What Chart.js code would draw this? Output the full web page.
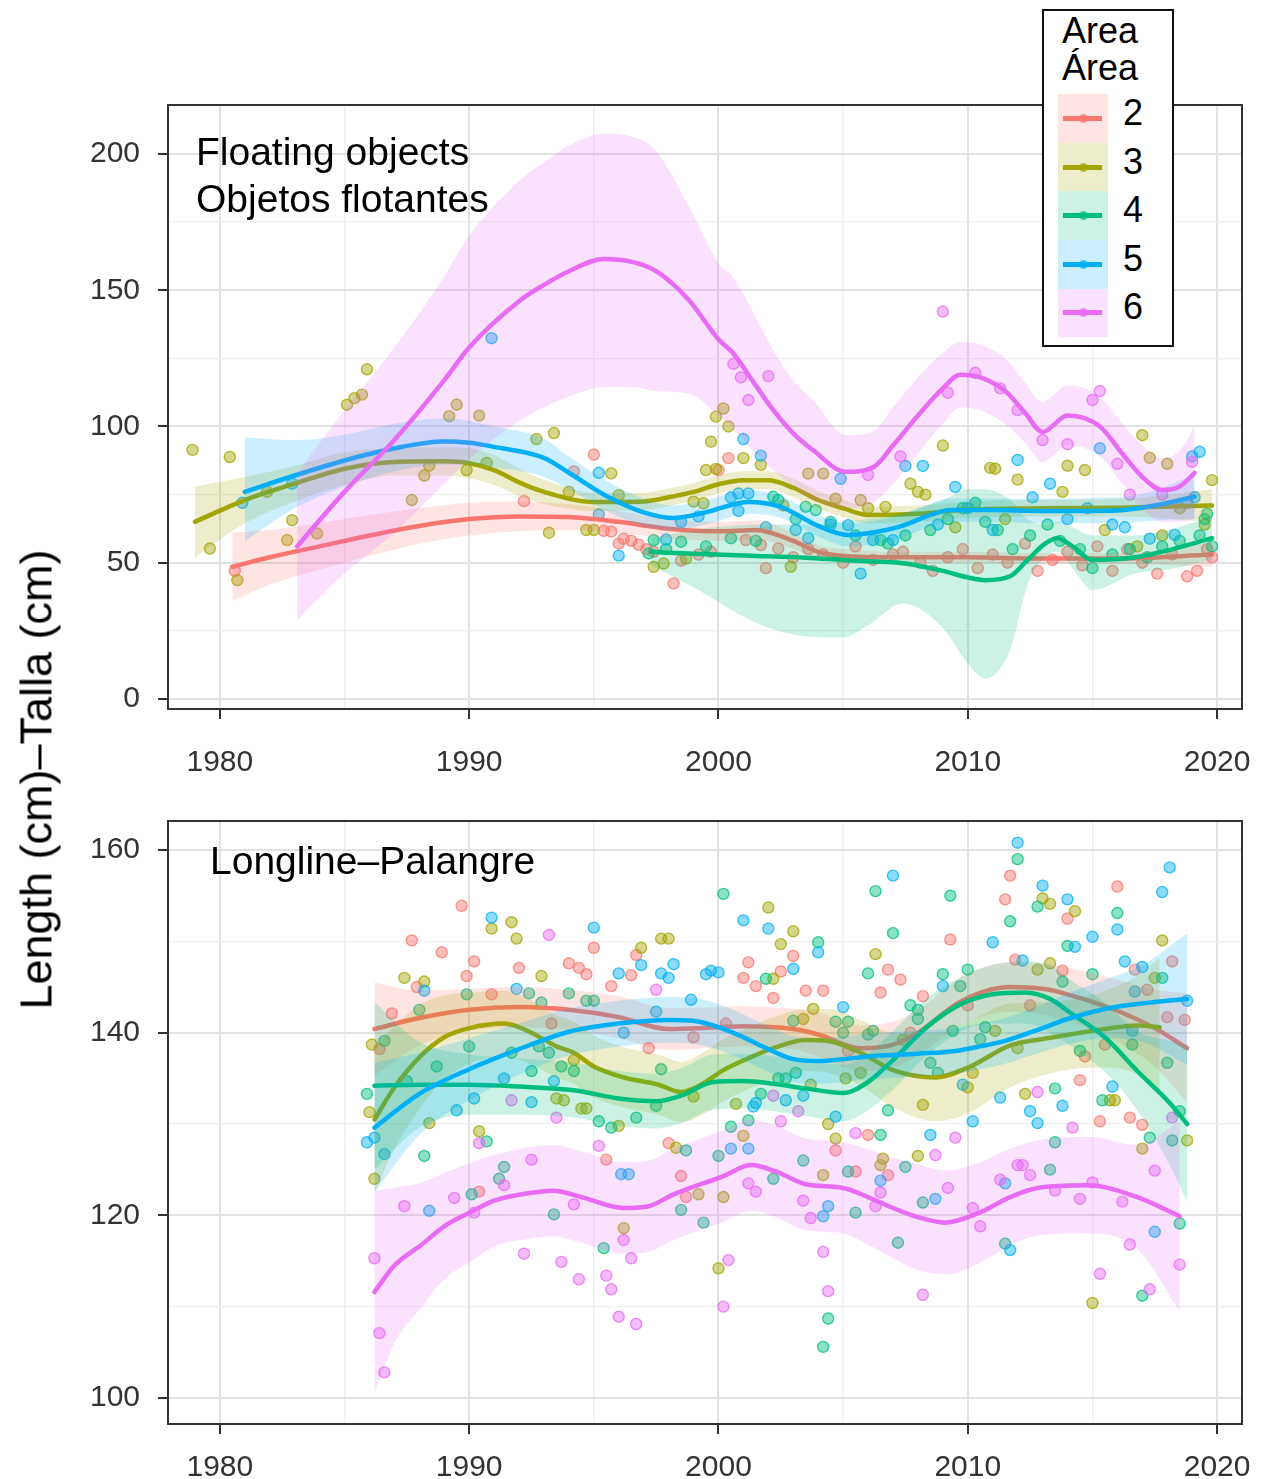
<!DOCTYPE html>
<html><head><meta charset="utf-8">
<script src="https://cdn.jsdelivr.net/npm/chart.js@4.4.1/dist/chart.umd.min.js"></script>
<style>
html,body{margin:0;padding:0;background:#fff;}
#wrap{position:relative;width:1268px;height:1479px;overflow:hidden;font-family:"Liberation Sans",Arial,Helvetica,sans-serif;color:#000;}
canvas{position:absolute;left:0;}
.t{position:absolute;white-space:nowrap;}
.plabel{font-size:39px;line-height:39px;}
.lg{font-size:36px;line-height:36px;}
</style></head><body>
<div id="wrap">
<canvas id="c1" width="1268" height="790" style="top:0px"></canvas>
<canvas id="c2" width="1268" height="719" style="top:760px"></canvas>
<div class="t plabel" style="left:196px;top:132px">Floating objects</div>
<div class="t plabel" style="left:196px;top:179px">Objetos flotantes</div>
<div class="t plabel" style="left:210px;top:841px">Longline–Palangre</div>
<div class="t" id="ytitle" style="left:-314px;top:757px;width:700px;height:45px;line-height:45px;font-size:45px;text-align:center;transform:rotate(-90deg);transform-origin:50% 50%;">Length (cm)–Talla (cm)</div>
<div id="legend"></div>
</div>
<script>
// ---------------- DATA ----------------
const areaNames = ['2','3','4','5','6'];
const xTicks = [1980,1985,1990,1995,2000,2005,2010,2015,2020];
const foYTicks = [0,25,50,75,100,125,150,175,200];
const llYTicks = [100,110,120,130,140,150,160];

// Floating objects: smooth fits and confidence bands
const fo_x_2 = [1980.5,1982,1984,1986,1988,1990,1992,1994,1996,1998,2000,2001.5,2003,2004,2005,2007,2010,2013,2016,2019.8];
const fo_fit_2 = [48.5,52,56,60,63.5,66,67,66.8,65,62.5,61.5,62,58,54,52.5,52,52,51.5,51.5,53];
const fo_lo_2 = [36,42,47.5,52.5,57,60,61.5,62,61,59,58,58.5,55,51.5,50,50,50,49.5,49.5,48.5];
const fo_hi_2 = [61,62,64.5,67.5,70,72,72.5,71.5,69,66,65,65.5,61,56.5,55,54,54,53.5,53.5,57.5];

const fo_x_3 = [1979,1981,1983,1985,1987,1989,1990,1991,1992,1993,1995,1997,1998,1999,2000,2001,2002,2003,2004,2005,2006,2008,2010,2013,2016,2019.8];
const fo_fit_3 = [65,73,79,84.5,87,87.2,86.5,84,79.5,76,72.3,72.5,74,76,78.8,80.3,80.3,77.5,73,70,67.5,68,69.5,70,70.2,71];
const fo_lo_3 = [52,64.5,72.5,78.5,82,82,81,78.5,74.5,71.5,69,69.3,70.8,72.8,75.5,77,77,74.2,69.8,66.8,64.4,65,66.5,67,67,65];
const fo_hi_3 = [78,81.5,85.5,90.5,92,92.4,92,89.5,84.5,80.5,75.6,75.7,77.2,79.2,82.1,83.6,83.6,80.8,76.2,73.2,70.6,71,72.5,73,73.4,77];

const fo_x_4 = [1997.3,1999,2001.5,2003.5,2005,2006,2007.4,2009,2010,2010.7,2011.7,2012.4,2013.1,2013.6,2014.2,2015,2016.7,2018,2019.8];
const fo_fit_4 = [54,53.3,52.5,51.8,51,50.5,49.8,47,44.6,43.6,45,51,57,59,56,51,52,54.5,59];
const fo_lo_4 = [49,41,28,23,22.5,27,35,26,13,7.5,18,42,52,54,48,40,46,47.5,51];
const fo_hi_4 = [59,62,64,64,65,66,68,73,77,77,73,66,64,65,63,60,60,62,67];

const fo_x_5 = [1981,1983,1985,1987,1989,1990,1991,1993,1994,1995.5,1997,1998.2,1999.5,2001.2,2002.5,2004,2005.2,2006,2007.3,2008.3,2009.3,2011,2013,2016,2017.5,2019.1];
const fo_fit_5 = [76,82,87.5,92,94.5,94,92.5,88.5,83,74.5,68.5,66.4,68.5,72.3,70.5,63.5,60.2,60.8,63.3,66.8,69.3,69.3,69,69.2,71,74.2];
const fo_lo_5 = [58,70,78,83.5,86,86,85,81.5,77,69,63.5,62,64,68,66.5,59.5,56,56.5,59,62.5,65,65,64.5,64.5,65.5,66];
const fo_hi_5 = [96,95,97,101,103,102,100,95.5,89,80,73.5,71,73,76.6,74.5,67.5,64.4,65,67.6,71,73.6,73.6,73.5,74,76.5,82.5];

const fo_x_6 = [1983.1,1985,1987,1989,1990,1992,1993,1994,1995.4,1996.5,1997.5,1998.8,2000,2000.6,2001.5,2002.2,2003,2003.8,2005.1,2006.2,2007,2008,2009,2009.7,2010.5,2011.5,2012.3,2013,2014,2015.3,2016.2,2017,2017.8,2018.5,2019.1];
const fo_fit_6 = [56,76,95,117,129,146,152,157,161.5,160.5,157,146.5,132,126.8,115,106,97.5,91.3,83.4,85,93,104,114,119,118,113,105,98,104,100,90,81.5,76.7,78,83];
const fo_lo_6 = [29,46,61,79,88,102,107,111,114.5,114.5,113,112,104,99,90,84,78,73,70,72,79,90,101,107,106,101,94,87,93,89,79,70,65,65,66];
const fo_hi_6 = [83,106,129,155,170,190,197,203,207.5,206.5,201,181,160,154.6,140,128,117,109.6,96.8,98,107,118,127,131,130,125,116,109,115,111,101,93,88.4,91,100];

// Floating objects: observations [year, length]
const fo_pts_2 = [[1980.6,47],[1992.2,72.6],[1994.2,83.5],[1995,89.7],[1995.4,61.7],[1995.7,61.4],[1996,57],[1996.2,58.8],[1996.5,58],[1996.8,56.6],[1997.1,55],[1997.4,54],[1998.2,42.4],[1998.5,50.8],[1999.2,53],[1999.7,54],[2000,84],[2000.4,88.4],[2001.1,58.3],[2001.7,56.5],[2002.4,55.2],[2001.9,48],[2003,52],[2003.6,55],[2004.2,53],[2005,50],[2005.5,56],[2006.2,51],[2007,53],[2007.4,54],[2008.1,50],[2008.6,47],[2009.2,52],[2009.8,55],[2010.4,48],[2011,53],[2011.6,50],[2012.3,57],[2012.8,47],[2013.4,51],[2014,54],[2014.6,49],[2015.2,56],[2015.8,47],[2016.4,55],[2017,50],[2017.6,46],[2018.2,53],[2018.8,45],[2019.2,47],[2019.6,55],[2019.8,52]];
const fo_pts_3 = [[1978.9,91.4],[1980.4,88.8],[1979.6,55.2],[1980.7,43.6],[1981.9,76],[1982.9,65.6],[1982.7,58.3],[1983.9,60.7],[1985.1,108],[1985.4,110.4],[1985.7,111.7],[1985.9,121],[1987.7,73],[1988.2,82],[1988.4,85.6],[1989.2,103.8],[1989.5,108],[1990.4,104],[1990.7,86.6],[1989.9,84],[1992.7,95.4],[1993.4,97.6],[1993.2,61],[1994,76],[1995.7,82.8],[1996,74.8],[1994.7,62],[1995,62],[1997.4,48.5],[1997.8,49.7],[1998.7,51.5],[1999,72.4],[1999.4,71.8],[1999.7,94.4],[1999.9,103.6],[2000.2,106.6],[2000.4,100],[1999.5,84],[1999.9,84.4],[2001,88.4],[2001.7,85.9],[2002.6,71],[2002.9,48.5],[2003.6,82.7],[2004.2,82.7],[2004.7,73.5],[2005.7,73],[2006,70],[2006.7,70.5],[2007.7,79],[2008,76],[2008.3,75],[2009,93],[2009.5,63],[2010.9,84.8],[2011.1,84.5],[2011.5,66],[2012,80.5],[2013.8,76],[2014,85.6],[2014.7,84],[2015.5,62],[2016.8,56],[2017,96.8],[2017.3,88.5],[2017.8,60],[2018,86.3],[2018.5,70],[2019.5,64],[2019.8,80.3]];
const fo_pts_4 = [[1997.2,53.4],[1997.4,58.3],[1997.9,55],[1998.5,57.7],[1999.5,56],[2000.5,59],[2001.5,58],[2002.2,74.2],[2002.4,73],[2003.1,66],[2003.5,70.5],[2003.9,69.3],[2004.5,65],[2005.5,60],[2006.5,58.3],[2006.8,57],[2007.5,60],[2008.5,62],[2009.2,66],[2009.8,70],[2010.3,72],[2010.7,65],[2011.2,62],[2011.8,55],[2012.5,60],[2013.2,64],[2013.7,58],[2014.5,55],[2015,48],[2015.8,53],[2016.5,55],[2017.2,52],[2017.8,56],[2018.5,58],[2019.3,60],[2019.5,66],[2019.6,68],[2019.8,56]];
const fo_pts_5 = [[1980.9,72],[1982.9,79],[1990.9,132.4],[1995.2,83],[1995.2,67.7],[1996,52.6],[1997.9,58.5],[1998.5,65],[1999.2,67],[2000.5,74],[2000.8,75.4],[2001.2,75.4],[2000.8,69],[2001,95.4],[2001.7,89.3],[2001.9,63],[2003.1,62],[2003.6,59],[2004.5,64],[2004.9,80.8],[2005.2,63.8],[2005.7,46],[2006.2,58.3],[2007,58.3],[2007.5,85.5],[2008.2,85.5],[2008.8,64],[2009.5,77.8],[2010,70],[2011,62],[2012,87.7],[2012.6,74],[2013.3,79],[2014,66],[2014.8,70],[2015.3,92],[2015.8,64],[2016.3,63],[2017.3,58.8],[2018.3,60.2],[2018.8,72],[2019,89],[2019.3,90.7],[2019.1,74]];
const fo_pts_6 = [[2000.6,123],[2000.9,118],[2002,118.5],[2001.2,109.7],[2006,82.2],[2007.3,89],[2009,142.2],[2009.2,112.4],[2010.3,119.7],[2011.3,114],[2012,106],[2013,95],[2014,93.5],[2015,109.7],[2015.3,113],[2016,86.3],[2016.5,75],[2017.8,75],[2019,87]];

// Longline: smooth fits and confidence bands
const ll_x_2 = [1986.2,1988,1990,1992,1994,1996,1998,2000,2001,2003,2004,2005.7,2007,2008,2009.7,2011.7,2013,2014,2016,2017.5,2018.8];
const ll_fit_2 = [140.4,141.6,142.5,142.8,142.5,141.7,140.4,140.6,140.7,140.4,139.8,138.3,138.7,140,143.4,145,144.8,144.2,142.4,140.5,138.3];
const ll_lo_2 = [135.3,138.6,140.2,140.6,140.3,139.4,138.1,138.4,138.5,138.2,137.4,135.8,136.2,137.5,140.8,142.3,142,141.3,139,136.3,132.3];
const ll_hi_2 = [145.5,144.6,144.8,145,144.7,144,142.7,142.8,142.9,142.6,142.2,140.8,141.2,142.5,146,147.7,147.6,147.1,145.8,144.7,144.3];

const ll_x_3 = [1986.2,1987,1988,1989,1990,1991.4,1992.5,1993.5,1994.2,1995,1996.2,1997.6,1998.5,1999.3,2000.2,2001.2,2002.2,2003.5,2004.4,2005.7,2007,2008.7,2010.1,2011.7,2013,2014.1,2015.5,2016.8,2017.7];
const ll_fit_3 = [130.5,134,137.3,139.5,140.5,141,140,138.5,137.8,136.3,135.1,134.3,133.5,134.3,135.9,137.2,138.3,139.2,139.1,137.8,135.9,135.1,136.3,138.6,139.3,139.8,140.4,140.8,140.6];
const ll_lo_3 = [122.5,127.3,131.6,134.9,136.6,137.4,136.5,135.1,134.4,132.9,131.8,131,130.2,130.9,132.5,133.8,134.9,135.8,135.6,134.2,131.8,130.3,131.3,134,135.3,136,136.2,135.4,133];
const ll_hi_3 = [138.5,140.7,143,144.1,144.4,144.6,143.5,141.9,141.2,139.7,138.4,137.6,136.8,137.7,139.3,140.6,141.7,142.6,142.6,141.4,140,139.9,141.3,143.2,143.3,143.6,144.6,146.2,148.2];

const ll_x_4 = [1986.2,1988,1990,1992,1994.2,1996,1997.5,1998.5,1999.8,2001,2002.2,2003.5,2005,2006,2007,2008.4,2009.7,2011,2012.3,2013.3,2014.1,2015.5,2016.8,2018.1,2018.8];
const ll_fit_4 = [134.2,134.3,134.3,134.1,133.7,132.8,132.5,133.1,134.6,134.7,134.4,133.9,133.4,134.6,137,140.7,143.1,144.2,144.4,143.7,142.2,139.5,135.8,132.3,130];
const ll_lo_4 = [125,129.6,131,131,130.7,129.8,129.5,130.1,131.6,131.7,131.4,130.9,130.3,131.5,133.8,137.6,140.1,141,141,140,138.6,135.7,131.5,125.5,121.5];
const ll_hi_4 = [143.4,139,137.6,137.2,136.7,135.8,135.5,136.1,137.6,137.7,137.4,136.9,136.5,137.7,140.2,143.8,146.1,147.4,147.8,147.4,145.8,143.3,140.1,139.1,138.5];

const ll_x_5 = [1986.2,1988,1990,1992,1994,1996,1998,1999,2000,2001,2002,2003,2004,2005,2006,2008,2009.5,2010.5,2011.5,2013,2014,2015.5,2017,2018.8];
const ll_fit_5 = [129.6,133.3,136,138.2,140.1,141,141.4,141.3,140.6,139.5,138.2,137.1,136.9,137.1,137.4,137.7,138,138.5,139.1,140.5,141.5,142.6,143.2,143.7];
const ll_lo_5 = [122.5,128.8,132.6,135.4,137.5,138.5,138.9,138.8,138.1,137,135.7,134.6,134.4,134.6,134.9,135.2,135.5,136,136.6,137.9,138.7,139.4,139,136.5];
const ll_hi_5 = [136.7,137.8,139.4,141,142.7,143.5,143.9,143.8,143.1,142,140.7,139.6,139.4,139.6,139.9,140.2,140.5,141,141.6,143.1,144.3,145.8,147.4,150.9];

const ll_x_6 = [1986.2,1987,1988.1,1989,1990.1,1991,1992.1,1993.4,1994.5,1996.2,1997.2,1998.2,2000.2,2001.3,2002.3,2003.5,2005,2006,2007,2008,2009.1,2010.4,2011.7,2012.8,2014.8,2016.8,2018.5];
const ll_fit_6 = [111.6,114.5,116.8,118.8,120.4,121.6,122.3,122.7,122,120.8,121,122.3,124.3,125.5,124.8,123.4,123,122,120.8,119.8,119.2,120.2,122,123,123.3,122,119.9];
const ll_lo_6 = [100.5,106,110,113,115,116.6,117.3,117.7,117,115.8,116,117.3,119.3,120.5,119.8,118.4,118,116.8,115.3,114,113.5,114.7,116.7,117.8,118,116.3,109.5];
const ll_hi_6 = [122.7,123,123.6,124.6,125.8,126.6,127.3,127.7,127,125.8,126,127.3,129.3,130.5,129.8,128.4,128,127.2,126.3,125.6,124.9,125.7,127.3,128.2,128.6,127.7,130.3];

// Longline: observations [year, length]
const ll_pts_2 = [[1989.7,153.9],[1987.7,150.1],[1988.9,148.8],[1990.2,147.8],[1989.9,146.2],[1995,149.3],[1992,147.1],[1994,147.6],[1994.4,147.1],[1994.7,146.4],[1995.7,145.1],[1996.5,146.3],[1996.7,148.5],[1987.9,145],[1986.9,142.1],[1990.9,144.2],[1986.4,138.2],[1998,127.9],[1995.5,126.1],[1998.5,124.3],[1998.7,122],[1990.4,122.6],[2001.2,147.7],[2001,146],[2001.5,145.1],[2002.5,146.7],[2002.2,143.8],[2003,148.4],[2003.5,144.6],[2004.2,144.6],[2006.8,146.9],[2007.3,145.8],[2006.5,144.4],[2009.3,150.2],[2011.7,157.2],[2011.5,154.6],[2014,152.5],[2016,156],[2018.2,147.8],[2016.7,146.9],[2018,141.7],[2018.7,141.4],[2014.5,134.8],[2015.3,130.3],[2016.5,130.7],[2017,129.9],[2008.2,144],[2011.9,148],[2013.8,146.8],[2017.2,144.7],[2015.5,138.7],[2014.7,137.4],[2006,128.8],[2004.7,127.1],[2006.8,124.4],[2005.5,124.8],[1997.2,138.3],[1993.3,141],[1999,139.5],[2000.3,141],[2005.2,138],[2007.7,140],[2010,143],[2012.5,143]];
const ll_pts_3 = [[1990.9,151.4],[1991.7,152.1],[1991.9,150.3],[1992.9,146.2],[1996.9,149.3],[1997.7,150.3],[1998,150.3],[1987.4,146],[1988.2,145.6],[1986.1,138.7],[1986,131.3],[1986.2,124],[1988.4,130.1],[1990.4,129.2],[1993.5,132.8],[1993.8,132.6],[1994.5,131.7],[1994.7,131.7],[1996,129.8],[1998.3,127.4],[1996.2,118.6],[2002,153.7],[2003,151.1],[2002.5,149.7],[2002.2,145.9],[2006.3,148.6],[2017.8,150.1],[2013,154.7],[2013.3,154.1],[2014.3,153.3],[2017.5,146],[2018.8,128.2],[2015.7,132.6],[2017,127.3],[2012.3,133.3],[2010,134],[2008.2,132.1],[2008,126.5],[2006.5,125.5],[2006.6,126.2],[2004.7,128.4],[2004.4,130],[2004.2,124.4],[2000.2,122],[1999.2,122.3],[2000,114.2],[2001,128.7],[2000.7,132.2],[2003.7,134.3],[2005.7,135.6],[2005.1,135],[2003.8,142.6],[2003.4,141.5],[2007.4,139.2],[2010.2,135.6],[2012,138.3],[2011.1,140.2],[2013.3,147.6],[2012.8,146.9],[2015,110.4],[2015.9,132.6],[1999,133],[1994.2,137]];
const ll_pts_4 = [[1988,142.5],[1989.9,144.2],[1992.4,144.3],[1992.9,143.3],[1994,144.3],[1994.7,143.5],[1995,143.5],[1986.6,139.1],[1985.9,133.3],[1988.2,126.5],[1987.5,134.7],[1988.7,136.3],[1990,138.5],[1990.7,128.1],[1991.7,137.8],[1991.4,125.3],[1991.2,124],[1992.5,135.8],[1992.8,138.5],[1993.2,137.8],[1993.7,136.3],[1994.2,135.8],[1995.2,130.3],[1995.7,129.6],[1996.7,130.7],[1997.7,136],[1997.5,132],[1998.7,127.1],[1995.4,116.4],[1993.4,120.1],[1998.5,120.6],[1990.1,122.3],[2000.2,155.2],[2001.9,145.9],[2004,149.9],[2006.3,155.5],[2007,150.9],[2006,146.5],[2009.3,155],[2012,159],[2011.7,152.2],[2012.8,153.8],[2014,149.5],[2016,153.1],[2015,146.4],[2017.8,146],[2018,136.7],[2015.4,132.6],[2017.3,128.5],[2018.2,128.2],[2018.5,131.4],[2018.5,119.1],[2017,111.2],[2013.5,128],[2013.3,125],[2011.5,116.9],[2008.2,121.4],[2007.2,117],[2005.5,120.3],[2005.2,124.8],[2007.5,125.3],[2006.5,128.8],[2003.4,126],[2004.4,108.7],[2004.2,105.6],[2002.2,124],[2001.2,130.4],[2000.5,129.7],[2000,126.5],[1999.4,119.2],[2001.7,133.3],[2006.8,131.5],[2008.8,135.6],[2008.5,136.7],[2009.4,140.2],[2009,146.4],[2010,146.9],[2009.7,145.1],[2008,141.5],[2008,142.5],[2007.7,143],[2013.8,145.6],[2014.5,138],[2016.6,138.7],[2010.5,139.3],[2005,140],[2004.7,141.2],[2005.2,141.2],[2003,141.3],[2003.1,135.6],[2002.4,135],[2002.7,135],[2006.2,140.2],[2006,139.8],[2010.7,140.6],[2013.5,133.9]];
const ll_pts_5 = [[1990.9,152.6],[1995,151.5],[1996,146.5],[1996.9,147.4],[1997.7,146.5],[1998,146],[1998.2,147.5],[1988.2,144.6],[1991.9,144.8],[1997.5,142.3],[1998.9,143.6],[1996.2,140],[1985.9,128],[1986.2,128.5],[1986.6,126.7],[1989.5,131.5],[1990.2,132.8],[1991.4,135],[1992.5,132.4],[1993.4,134.7],[1996.1,124.5],[1996.4,124.5],[1988.4,120.5],[2001,152.3],[2002,151.4],[2003,147],[2004,148.8],[1999.5,146.4],[1999.7,146.8],[2000,146.6],[2007,157.2],[2011,149.9],[2012,160.8],[2013,156.1],[2014,154.6],[2014.3,149.4],[2015,150.5],[2016,151.3],[2016.3,147.8],[2018.1,158.1],[2017.8,155.4],[2017,147.2],[2015.8,134.1],[2017.5,118.2],[2012.8,130.1],[2012.5,131.4],[2011.3,132.9],[2010.2,130.3],[2008.5,128.8],[2009.8,134.3],[2011.5,123.5],[2011.7,116.2],[2008.7,121.8],[2006.5,123.8],[2004.4,121],[2004.2,119.9],[2001.2,127.3],[2000.5,127.3],[2001.5,132.3],[2002.7,132.6],[2003.4,133.1],[2001.4,131.9],[2004.7,130.8],[2009,145.1],[2012.2,147.9],[2016.7,144.5],[2016.6,140.2],[2005,142.8],[2013.8,132],[2018.8,143.5]];
const ll_pts_6 = [[1993.2,150.7],[1997.5,144.7],[1991.7,132.6],[1993.5,130.7],[1990.4,127.9],[1995.2,127.6],[1992.5,126.1],[1989.4,121.9],[1987.4,121],[1990.2,120.3],[1991.4,123.3],[1986.2,115.3],[1986.4,107.1],[1986.6,102.8],[1992.2,115.8],[1993.7,114.9],[1994.4,113],[1995.5,113.4],[1995.7,111.9],[1996,108.9],[1996.7,108.1],[1996.2,117.3],[1996.5,115.3],[1994.2,121.2],[2001.2,123.5],[2001.5,122.6],[2000.4,115.1],[2000.2,110],[2002.2,133.1],[2002.5,130.3],[2003.2,131.4],[2003.7,119.7],[2003.4,121.6],[2004.2,116],[2004.4,111.7],[2005.5,129],[2006.3,121],[2006.5,122.5],[2008.2,111.3],[2008.7,126.6],[2009.5,128.5],[2009.2,123],[2010.5,118.8],[2010.2,120.8],[2011.3,123.9],[2012,125.5],[2012.2,125.5],[2012.5,124.4],[2012.8,133.5],[2014.2,129.6],[2013.5,122.7],[2014.5,121.8],[2015,123.6],[2016.2,121.5],[2015.3,113.6],[2016.5,116.8],[2017.3,111.9],[2017.5,124.9],[2018.2,130.7],[2018.5,114.6]];

// ---------------- STYLE / RENDER ----------------
const areaColors = ['#F8766D','#A3A500','#00BF7D','#00B0F6','#E76BF3'];
const FONT = '"Liberation Sans", Arial, Helvetica, sans-serif';

function rgba(hex, a){
  const n = parseInt(hex.slice(1),16);
  return 'rgba(' + ((n>>16)&255) + ',' + ((n>>8)&255) + ',' + (n&255) + ',' + a + ')';
}
function xy(xs, ys){ return xs.map((v,k)=>({x:v, y:ys[k]})); }

const foGroups = [
  {x:fo_x_2, fit:fo_fit_2, lo:fo_lo_2, hi:fo_hi_2, pts:fo_pts_2},
  {x:fo_x_3, fit:fo_fit_3, lo:fo_lo_3, hi:fo_hi_3, pts:fo_pts_3},
  {x:fo_x_4, fit:fo_fit_4, lo:fo_lo_4, hi:fo_hi_4, pts:fo_pts_4},
  {x:fo_x_5, fit:fo_fit_5, lo:fo_lo_5, hi:fo_hi_5, pts:fo_pts_5},
  {x:fo_x_6, fit:fo_fit_6, lo:fo_lo_6, hi:fo_hi_6, pts:fo_pts_6}
];
const llGroups = [
  {x:ll_x_2, fit:ll_fit_2, lo:ll_lo_2, hi:ll_hi_2, pts:ll_pts_2},
  {x:ll_x_3, fit:ll_fit_3, lo:ll_lo_3, hi:ll_hi_3, pts:ll_pts_3},
  {x:ll_x_4, fit:ll_fit_4, lo:ll_lo_4, hi:ll_hi_4, pts:ll_pts_4},
  {x:ll_x_5, fit:ll_fit_5, lo:ll_lo_5, hi:ll_hi_5, pts:ll_pts_5},
  {x:ll_x_6, fit:ll_fit_6, lo:ll_lo_6, hi:ll_hi_6, pts:ll_pts_6}
];

function buildDatasets(groups){
  const ds = [];
  groups.forEach((g,i)=>{
    const c = areaColors[i];
    ds.push({type:'scatter', label:'pts'+areaNames[i], data: g.pts.map(p=>({x:p[0], y:p[1]})),
      pointRadius:5.5, pointBorderWidth:1.4, backgroundColor:rgba(c,0.45), borderColor:rgba(c,0.75),
      order:100-i});
  });
  groups.forEach((g,i)=>{
    const c = areaColors[i];
    const u = ds.length;
    ds.push({type:'line', label:'hi'+areaNames[i], data:xy(g.x,g.hi), borderWidth:0, borderColor:'rgba(0,0,0,0)',
      pointRadius:0, fill:u+1, backgroundColor:rgba(c,0.2), cubicInterpolationMode:'monotone', order:50-10*i});
    ds.push({type:'line', label:'lo'+areaNames[i], data:xy(g.x,g.lo), borderWidth:0, borderColor:'rgba(0,0,0,0)',
      pointRadius:0, fill:false, cubicInterpolationMode:'monotone', order:50-10*i});
    ds.push({type:'line', label:'Area '+areaNames[i], data:xy(g.x,g.fit), borderWidth:4.5, borderColor:c,
      pointRadius:0, fill:false, cubicInterpolationMode:'monotone', order:49-10*i, borderCapStyle:'round', borderJoinStyle:'round'});
  });
  return ds;
}

const borderPlugin = {
  id:'panelBorder',
  afterDraw(chart){
    const {ctx, chartArea:a} = chart;
    ctx.save(); ctx.strokeStyle='#333'; ctx.lineWidth=2;
    ctx.strokeRect(a.left, a.top, a.right-a.left, a.bottom-a.top);
    ctx.restore();
  }
};

function makeChart(id, groups, yTicks, yMin, yMax, yMajor, padTop, xHeight, xPad){
  return new Chart(document.getElementById(id), {
    type:'line',
    data:{datasets:buildDatasets(groups)},
    options:{
      responsive:false, animation:false, events:[],
      layout:{padding:{top:padTop, right:26, left:0, bottom:0}},
      plugins:{legend:{display:false}, tooltip:{enabled:false}},
      scales:{
        x:{type:'linear', min:1977.92, max:2021.0,
          afterBuildTicks:s=>{ s.ticks = xTicks.map(v=>({value:v})); },
          afterFit:s=>{ s.height = xHeight; s.paddingLeft = 0; s.paddingRight = 0; },
          ticks:{callback:v=> v%10===0 ? String(v) : '', font:{size:30, family:FONT}, color:'#333', padding:xPad, maxRotation:0, autoSkip:false},
          grid:{color:c=> (c.tick && c.tick.value%10===0) ? '#e2e2e2' : '#efefef',
                lineWidth:c=> (c.tick && c.tick.value%10===0) ? 2 : 1.3,
                tickColor:c=> (c.tick && c.tick.value%10===0) ? '#333' : 'rgba(0,0,0,0)',
                tickLength:10, tickWidth:2, drawTicks:true},
          border:{display:false}
        },
        y:{type:'linear', min:yMin, max:yMax,
          afterBuildTicks:s=>{ s.ticks = yTicks.map(v=>({value:v})); },
          afterFit:s=>{ s.width = 168; s.paddingTop = 0; s.paddingBottom = 0; },
          ticks:{callback:v=> v%yMajor===0 ? String(v) : '', font:{size:30, family:FONT}, color:'#333', padding:18, autoSkip:false},
          grid:{color:c=> (c.tick && c.tick.value%yMajor===0) ? '#e2e2e2' : '#efefef',
                lineWidth:c=> (c.tick && c.tick.value%yMajor===0) ? 2 : 1.3,
                tickColor:c=> (c.tick && c.tick.value%yMajor===0) ? '#333' : 'rgba(0,0,0,0)',
                tickLength:10, tickWidth:2, drawTicks:true},
          border:{display:false}
        }
      }
    },
    plugins:[borderPlugin]
  });
}

makeChart('c1', foGroups, foYTicks, -3.7, 218, 50, 105, 81, 26);
makeChart('c2', llGroups, llYTicks, 97.15, 163.18, 20, 61, 55, 16);

// Legend (HTML)
(function(){
  const lg = document.getElementById('legend');
  let h = '<div style="position:absolute;left:1042px;top:9px;width:132px;height:338px;box-sizing:border-box;border:2px solid #111;background:#fff;"></div>';
  h += '<div class="t lg" style="left:1062px;top:12.5px">Area</div>';
  h += '<div class="t lg" style="left:1062px;top:49.5px">Área</div>';
  areaNames.forEach((n,i)=>{
    const c = areaColors[i];
    const cy = 118.5 + 48.6*i;
    h += '<div style="position:absolute;left:1058px;top:'+(cy-24.3)+'px;width:50px;height:48.6px;background:'+rgba(c,0.2)+'"></div>';
    h += '<div style="position:absolute;left:1063px;top:'+(cy-2.5)+'px;width:39px;height:5px;background:'+c+'"></div>';
    h += '<div style="position:absolute;left:'+(1083-4.5)+'px;top:'+(cy-4.5)+'px;width:9px;height:9px;border-radius:50%;background:'+rgba(c,0.7)+'"></div>';
    h += '<div class="t lg" style="left:1123px;top:'+(cy+7-30.5)+'px">'+n+'</div>';
  });
  lg.innerHTML = h;
})();
</script>
</body></html>
